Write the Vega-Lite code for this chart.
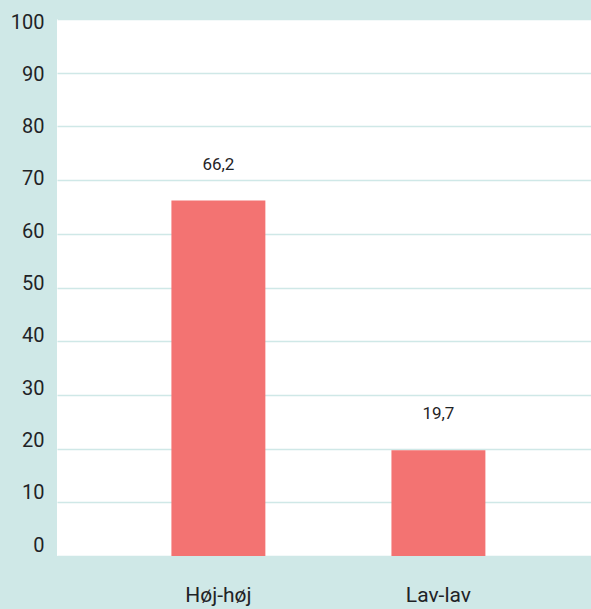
{
  "$schema": "https://vega.github.io/schema/vega-lite/v6.json",
  "width": 534,
  "height": 537,
  "autosize": {"type": "none"},
  "padding": {"left": 57, "top": 19, "right": 0, "bottom": 53},
  "background": "#cfe8e7",
  "view": {"fill": "#ffffff", "stroke": null},
  "config": {"font": "Roboto"},
  "data": {"values": [
    {"group": "Høj-høj", "value": 66.2, "label": "66,2"},
    {"group": "Lav-lav", "value": 19.7, "label": "19,7"}
  ]},
  "encoding": {
    "x": {
      "field": "group", "type": "nominal", "sort": null,
      "scale": {"paddingInner": 0.573, "paddingOuter": 0.5, "align": 0.52},
      "axis": {"title": null, "labelAngle": 0, "ticks": false, "domain": false, "grid": false,
               "labelFontSize": 21, "labelColor": "#1f2326", "labelPadding": 28, "labelFont": "Roboto"}
    }
  },
  "layer": [
    {
      "layer": [
        {
          "mark": {"type": "bar", "color": "#f37372"},
          "encoding": {
            "y": {"field": "value", "type": "quantitative", "scale": {"domain": [0, 100]},
                  "axis": {"title": null, "labels": false, "ticks": false, "domain": false, "grid": true,
                           "gridColor": "#cfe8e7", "gridWidth": 1.5,
                           "values": [0, 10, 20, 30, 40, 50, 60, 70, 80, 90, 100]}}
          }
        },
        {
          "mark": {"type": "text", "dy": -36, "fontSize": 17, "color": "#1f2326", "baseline": "middle", "font": "Roboto"},
          "encoding": {
            "y": {"field": "value", "type": "quantitative", "scale": {"domain": [0, 100]}},
            "text": {"field": "label"}
          }
        }
      ]
    },
    {
      "mark": {"type": "rule", "opacity": 0},
      "encoding": {
        "y": {"field": "value", "type": "quantitative", "scale": {"domain": [0, 100], "range": [526, 3]},
              "axis": {"orient": "left", "title": null, "grid": false, "ticks": false, "domain": false,
                       "values": [0, 10, 20, 30, 40, 50, 60, 70, 80, 90, 100],
                       "labelFontSize": 20, "labelColor": "#1f2326", "labelPadding": 13, "labelFont": "Roboto"}}
      }
    }
  ],
  "resolve": {"scale": {"y": "independent"}}
}
